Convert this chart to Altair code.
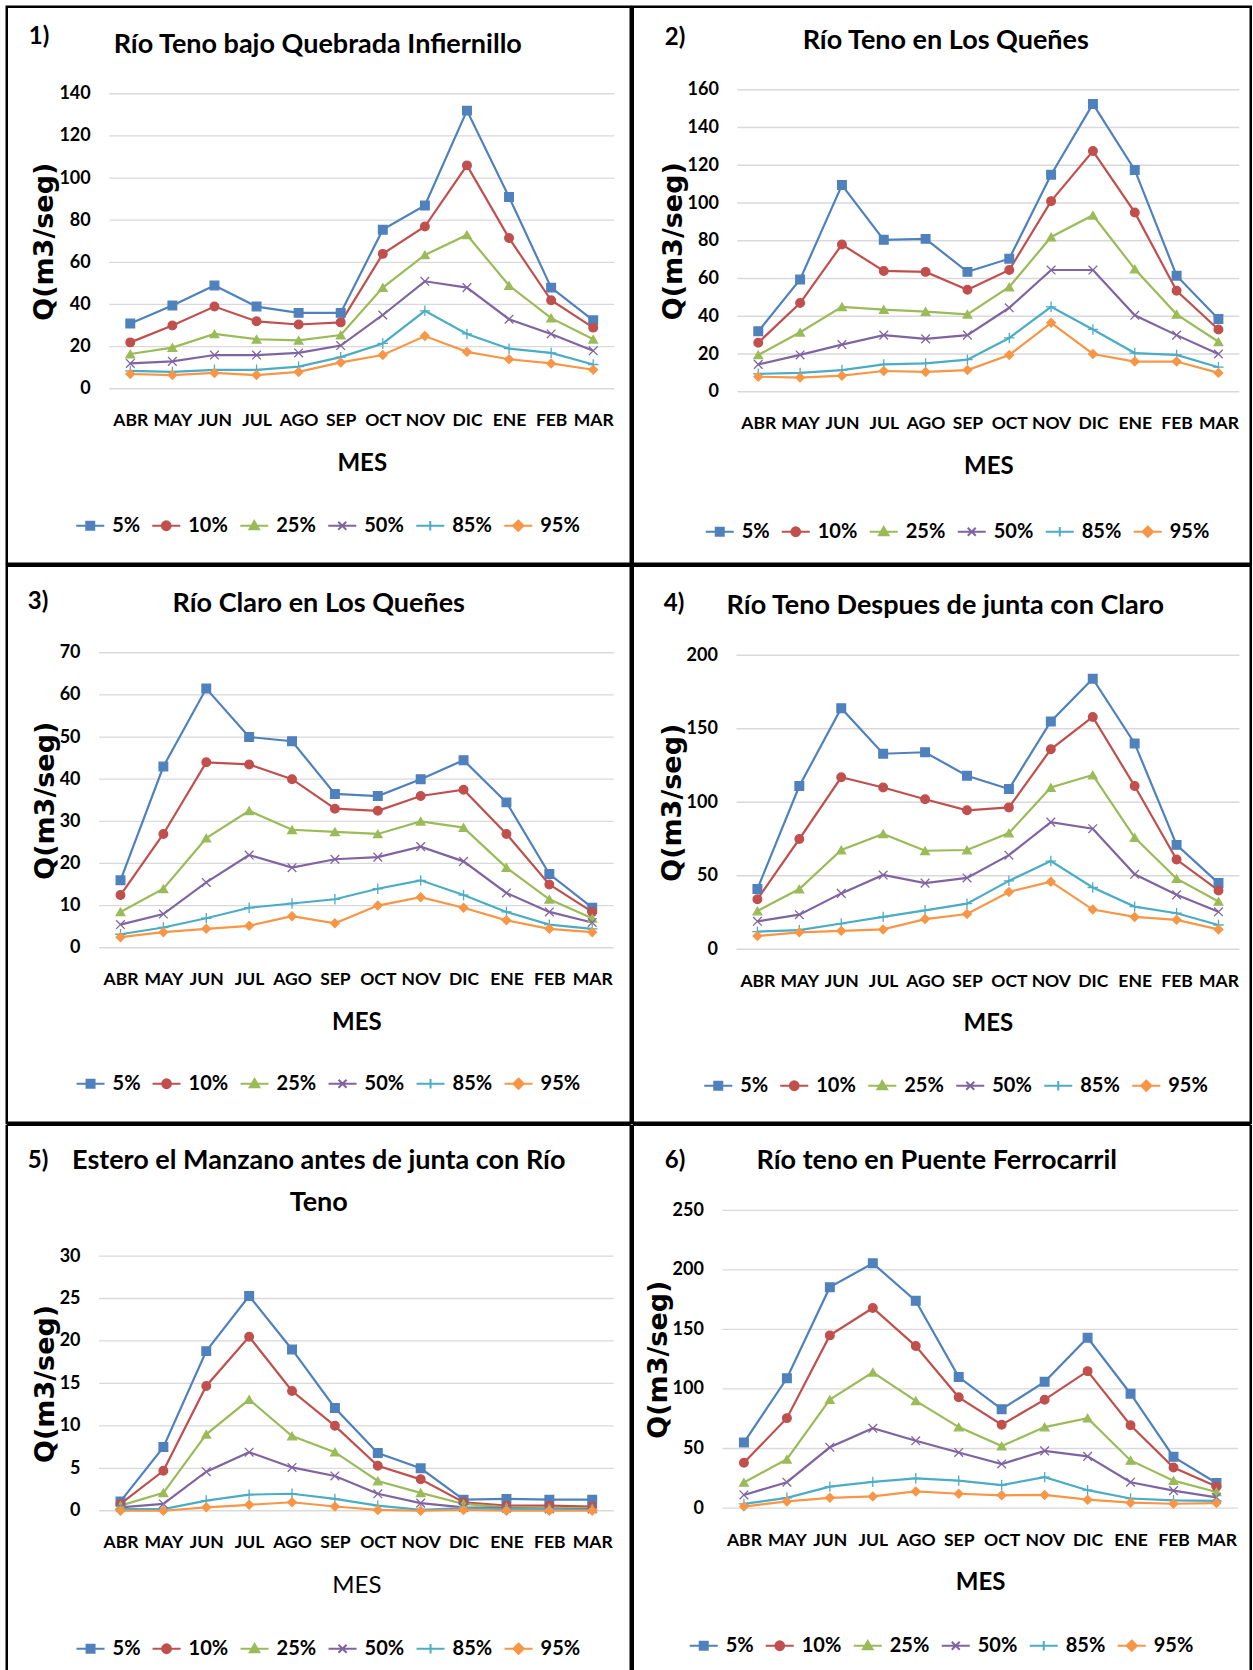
import altair as alt
import pandas as pd

MESES = ["ABR", "MAY", "JUN", "JUL", "AGO", "SEP", "OCT", "NOV", "DIC", "ENE", "FEB", "MAR"]
SERIES = ["5%", "10%", "25%", "50%", "85%", "95%"]
COLORES = ["#4F81BD", "#C0504D", "#9BBB59", "#8064A2", "#4BACC6", "#F79646"]

# 1) Río Teno bajo Quebrada Infiernillo
P1 = {
    "5%":  [31, 39.5, 49, 39, 36, 36, 75.5, 87, 132, 91, 48, 32.5],
    "10%": [22, 30, 39, 32, 30.5, 31.5, 64, 77, 106, 71.5, 42, 29],
    "25%": [16.5, 19.5, 26, 23.5, 23, 25.5, 48, 63.5, 73, 49, 33.5, 23.5],
    "50%": [12, 13, 16, 16, 17, 20.5, 35, 51, 48, 33, 26, 18],
    "85%": [8.5, 8, 9, 9, 10.5, 15, 21.5, 37, 26, 19, 17, 11.5],
    "95%": [7, 6.5, 7.5, 6.5, 8, 12.5, 16, 25, 17.5, 14, 12, 9],
}
# 2) Río Teno en Los Queñes
P2 = {
    "5%":  [32, 59.5, 109.5, 80.5, 81, 63.5, 70.5, 115, 152.5, 117.5, 61.5, 38.5],
    "10%": [26, 47, 78, 64, 63.5, 54, 64.5, 101, 127.5, 95, 53.5, 33],
    "25%": [19.5, 31.5, 45, 43.5, 42.5, 41, 55.5, 82, 93.5, 65, 41, 26.5],
    "50%": [14.5, 19.5, 25, 30, 28, 30, 44.5, 64.5, 64.5, 40.5, 30, 20],
    "85%": [9.5, 10, 11.5, 14.5, 15, 17, 28.5, 45, 33, 20.5, 19.5, 13],
    "95%": [8, 7.5, 8.5, 11, 10.5, 11.5, 19.5, 36.5, 20, 16, 16, 10],
}
# 3) Río Claro en Los Queñes
P3 = {
    "5%":  [16, 43, 61.5, 50, 49, 36.5, 36, 40, 44.5, 34.5, 17.5, 9.5],
    "10%": [12.5, 27, 44, 43.5, 40, 33, 32.5, 36, 37.5, 27, 15, 8.5],
    "25%": [8.5, 14, 26, 32.5, 28, 27.5, 27, 30, 28.5, 19, 11.5, 7],
    "50%": [5.5, 8, 15.5, 22, 19, 21, 21.5, 24, 20.5, 13, 8.5, 6],
    "85%": [3.2, 4.8, 7, 9.5, 10.5, 11.5, 14, 16, 12.5, 8.5, 5.5, 4.5],
    "95%": [2.5, 3.7, 4.5, 5.2, 7.5, 5.8, 10, 12, 9.5, 6.5, 4.5, 3.7],
}
# 4) Río Teno Despues de junta con Claro
P4 = {
    "5%":  [41, 111, 164, 133, 134, 118, 109, 155, 184, 140, 71, 45],
    "10%": [34, 75, 117, 110, 102, 94.5, 96.5, 136, 158, 111, 61, 40],
    "25%": [26, 41, 67.5, 78.5, 67, 67.5, 79, 110, 118.5, 76, 48, 32.5],
    "50%": [19, 23.5, 38, 50.5, 45, 48.5, 64, 86.5, 82, 51, 37, 25.5],
    "85%": [12, 13, 17.5, 22, 26.5, 31, 46.5, 60, 42, 29, 24.5, 16.5],
    "95%": [9, 11.5, 12.5, 13.5, 20.5, 24, 39, 46, 27, 22, 20, 13.5],
}
# 5) Estero el Manzano antes de junta con Río Teno
P5 = {
    "5%":  [1.1, 7.5, 18.8, 25.3, 19, 12.1, 6.8, 5, 1.3, 1.4, 1.3, 1.3],
    "10%": [0.8, 4.7, 14.7, 20.5, 14.1, 10, 5.3, 3.7, 1, 0.6, 0.6, 0.5],
    "25%": [0.6, 2.1, 9, 13.1, 8.8, 6.9, 3.5, 2.1, 0.8, 0.4, 0.3, 0.3],
    "50%": [0.4, 0.8, 4.6, 6.9, 5.1, 4.1, 2, 0.9, 0.4, 0.3, 0.2, 0.2],
    "85%": [0.2, 0.2, 1.2, 1.9, 2.0, 1.4, 0.6, 0.1, 0.3, 0.2, 0.2, 0.1],
    "95%": [0.0, 0.0, 0.4, 0.7, 1.0, 0.5, 0.1, 0.0, 0.1, 0.0, 0.0, 0.0],
}
# 6) Río teno en Puente Ferrocarril
P6 = {
    "5%":  [55, 109, 185.5, 205.5, 174, 110, 83, 106, 143, 96, 43, 21],
    "10%": [38, 75.5, 145, 168, 136, 93, 70, 91, 115, 69.5, 34, 18],
    "25%": [21.5, 41, 91, 114, 90, 68, 52, 68, 75.5, 40, 23, 13.5],
    "50%": [11, 21.7, 51, 67, 56.5, 46.7, 37, 48, 43.4, 21.7, 14.6, 9],
    "85%": [3.5, 8.6, 18, 22, 25, 23, 19.3, 26, 15, 8, 6.5, 6],
    "95%": [1.2, 5.6, 8.6, 9.8, 14, 12, 10.7, 11, 7, 4.5, 3.6, 4.2],
}

TITULOS = [
    ["Río Teno bajo Quebrada Infiernillo"],
    ["Río Teno en Los Queñes"],
    ["Río Claro en Los Queñes"],
    ["Río Teno Despues de junta con Claro"],
    ["Estero el Manzano antes de junta con Río", "Teno"],
    ["Río teno en Puente Ferrocarril"],
]
YMAX = [140, 160, 70, 200, 30, 250]
YSTEP = [20, 20, 10, 50, 5, 50]

FONT = "Lato"
WIDE = "DejaVu Sans"
SW = 2.5

SHAPES = ["square", "circle", "triangle-up", "M-1,-1L1,1M-1,1L1,-1", "M-1.2,0H1.2M0,-1.2V1.2", "diamond"]
LINE = "M-3.5,0H3.5"
LEG_PATHS = [
    LINE + "M-1,-1H1V1H-1Z",
    LINE + "M-1.1,0A1.1,1.1,0,1,1,1.1,0A1.1,1.1,0,1,1,-1.1,0Z",
    LINE + "M0,-1.2L1.2,0.9H-1.2Z",
    LINE + "M-1,-1L1,1M-1,1L1,-1",
    LINE + "M0,-1.2V1.2",
    LINE + "M0,-1.3L1.3,0L0,1.3L-1.3,0Z",
]

# page geometry (absolute pixels): plot x0, y0, w, h ; panel box L, T, R, B ;
# legend symbol left / centre ; title centre x / baselines ; number label left / baseline
GEOM = [
    dict(x0=108.5, y0=93, w=505, h=295, L=6, T=6, R=630, B=563, sx=79.5, sy=525,
         tx=317, ty=[52], nx=28, ny=43),
    dict(x0=734.6, y0=89, w=502, h=302, L=630, T=6, R=1248, B=563, sx=707, sy=531,
         tx=943, ty=[48], nx=662, ny=44),
    dict(x0=98.3, y0=650, w=514.6, h=295, L=6, T=563, R=630, B=1120, sx=79.8, sy=1081,
         tx=318, ty=[609], nx=27, ny=606),
    dict(x0=733.7, y0=652.5, w=503, h=294, L=630, T=563, R=1248, B=1120, sx=705.5, sy=1083,
         tx=942.5, ty=[611], nx=661, ny=608),
    dict(x0=98.3, y0=1251.3, w=514.6, h=254.7, L=6, T=1120, R=630, B=1666, sx=79.8, sy=1644,
         tx=318, ty=[1164, 1206], nx=27, ny=1163),
    dict(x0=719.7, y0=1205.6, w=515.5, h=297.7, L=630, T=1120, R=1248, B=1666, sx=691, sy=1641,
         tx=934, ty=[1164], nx=662, ny=1163),
]


def one(v):
    return pd.DataFrame({"t": [v]})


def panel(k, valores):
    g = GEOM[k]
    L, T = g["L"], g["T"]
    W, H = g["R"] - L, g["B"] - T
    xa = g["x0"] - L
    xb = xa + g["w"]
    ya = g["y0"] - T
    yb = ya + g["h"]
    rows = []
    for s in SERIES:
        for i, (m, v) in enumerate(zip(MESES, valores[s])):
            rows.append({"mes": m, "serie": s, "q": v, "i": i})
    df = pd.DataFrame(rows)
    ymax, ystep = YMAX[k], YSTEP[k]
    ticks = list(range(0, ymax + 1, ystep))

    xenc = alt.X("mes:N", sort=MESES,
                 scale=alt.Scale(type="point", padding=0.5, domain=MESES, range=[xa, xb]),
                 axis=alt.Axis(title="MES", labelAngle=0, domain=False, ticks=False, tickSize=0,
                               grid=False, labelOverlap=False, offset=-(H - yb),
                               labelFont=FONT, labelFontWeight="bold", labelFontSize=17.5,
                               labelColor="black", labelPadding=23,
                               titleFont=FONT, titleFontSize=24,
                               titleFontWeight="normal" if k == 4 else "bold",
                               titleColor="black", titlePadding=22))
    yenc = alt.Y("q:Q", scale=alt.Scale(domain=[0, ymax], nice=False, zero=True, range=[yb, ya]),
                 axis=alt.Axis(title="Q(m3/seg)", values=ticks, offset=-xa,
                               domain=False, ticks=False, tickSize=0, grid=False,
                               labelFont=FONT, labelFontWeight="bold", labelFontSize=18,
                               labelColor="black", labelPadding=19,
                               titleFont=WIDE, titleFontSize=27, titleFontWeight="bold",
                               titleColor="black", titlePadding=0))
    cscale = alt.Scale(domain=SERIES, range=COLORES)
    leg_def = alt.Legend(title=None, orient="none", legendX=g["sx"] - L, legendY=g["sy"] - T - 10,
                         direction="horizontal", columns=6, symbolSize=64,
                         symbolStrokeWidth=2, labelFont=FONT, labelFontWeight="bold",
                         labelFontSize=20, labelColor="black", labelOffset=12,
                         columnPadding=8, padding=0, symbolOpacity=1)

    grid = alt.Chart(pd.DataFrame({"q": ticks})).mark_rule(color="#d9d9d9", strokeWidth=1.3).encode(
        y=yenc, x=alt.value(xa), x2=alt.value(xb))
    base = alt.Chart(df)
    leg = base.transform_filter("false").mark_point(filled=True, opacity=1).encode(
        x=xenc, y=yenc,
        fill=alt.Fill("serie:N", scale=cscale, legend=leg_def),
        stroke=alt.Stroke("serie:N", scale=cscale, legend=leg_def),
        shape=alt.Shape("serie:N", scale=alt.Scale(domain=SERIES, range=LEG_PATHS), legend=leg_def),
    )
    lines = base.mark_line(strokeWidth=2.2).encode(
        x=xenc, y=yenc,
        color=alt.Color("serie:N", scale=cscale, legend=None),
        order=alt.Order("i:Q"),
    )
    pts = base.mark_point(filled=True, size=75, strokeWidth=1.3, opacity=1).encode(
        x=xenc, y=yenc,
        fill=alt.Fill("serie:N", scale=cscale, legend=None),
        stroke=alt.Stroke("serie:N", scale=cscale, legend=None),
        shape=alt.Shape("serie:N", scale=alt.Scale(domain=SERIES, range=SHAPES), legend=None),
    )
    layers = [leg, grid, lines, pts]
    for j, t in enumerate(TITULOS[k]):
        layers.append(alt.Chart(one(t)).mark_text(
            font=FONT, fontSize=27, fontWeight="bold", color="black",
            align="center", baseline="alphabetic").encode(
            text="t:N", x=alt.value(g["tx"] - L), y=alt.value(g["ty"][j] - T)))
    layers.append(alt.Chart(one(f"{k + 1})")).mark_text(
        font=FONT, fontSize=24, fontWeight="bold", color="black",
        align="left", baseline="alphabetic").encode(
        text="t:N", x=alt.value(g["nx"] - L), y=alt.value(g["ny"] - T)))
    if k < 4:
        layers.append(alt.Chart(one(0)).mark_rect(fillOpacity=0, stroke="black", strokeWidth=SW).encode(
            x=alt.value(0), x2=alt.value(W), y=alt.value(0), y2=alt.value(H)))
    else:
        for (a, b, c, d) in [(0, 0, 0, H), (W, W, 0, H), (0, W, 0, 0)]:
            layers.append(alt.Chart(one(0)).mark_rule(stroke="black", strokeWidth=SW).encode(
                x=alt.value(a), x2=alt.value(b), y=alt.value(c), y2=alt.value(d)))
    return alt.layer(*layers).resolve_scale(
        fill="independent", stroke="independent", shape="independent"
    ).properties(width=W, height=H)


PANELES = [P1, P2, P3, P4, P5, P6]
ps = [panel(k, v) for k, v in enumerate(PANELES)]

RES = dict(color="independent", fill="independent", stroke="independent", shape="independent")
rows = [alt.hconcat(ps[2 * r], ps[2 * r + 1], spacing=-SW).resolve_scale(**RES) for r in range(3)]
chart = alt.vconcat(*rows, spacing=-SW).resolve_scale(**RES).properties(
    padding={"left": 4.75, "top": 4.75, "right": 0, "bottom": 0},
    background="white",
).configure_view(stroke=None)

chart.save("out.html", embed_options={"renderer": "svg", "actions": False})
